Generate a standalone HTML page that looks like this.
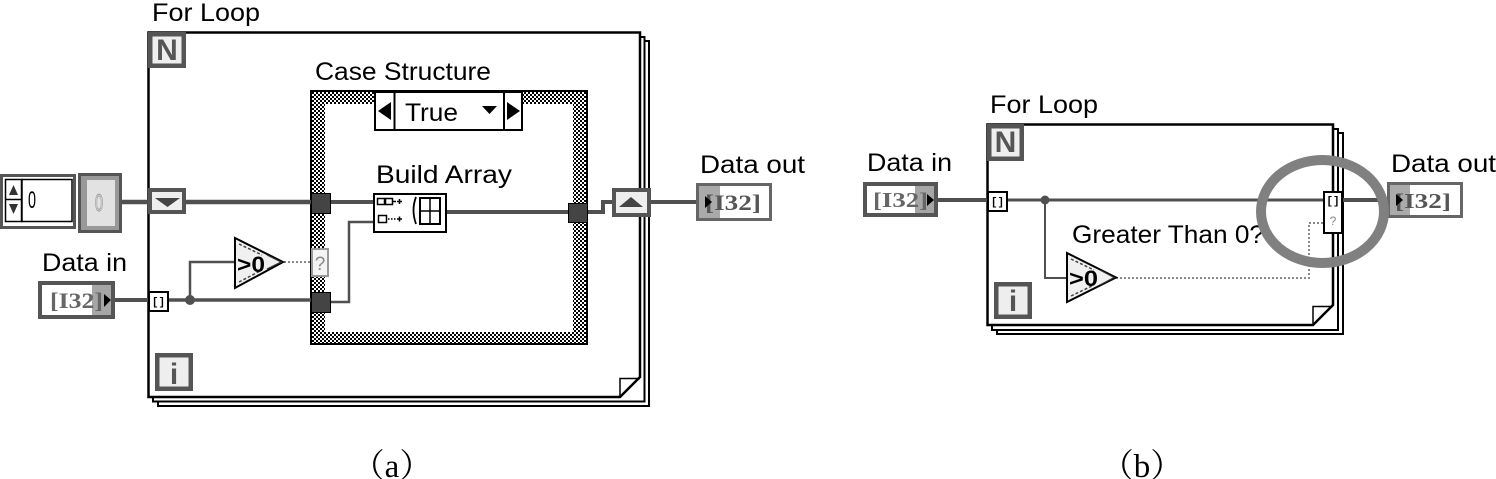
<!DOCTYPE html>
<html>
<head>
<meta charset="utf-8">
<style>
  html,body{margin:0;padding:0;background:#fff;}
  svg{display:block;}
  .lbl{font-family:"Liberation Sans",sans-serif;font-size:25px;fill:#000;}
  .ser{font-family:"Liberation Serif",serif;font-weight:bold;}
  .cap{font-family:"Liberation Serif","Noto Serif CJK SC",serif;font-size:33px;fill:#000;}
</style>
</head>
<body>
<svg width="1496" height="479" viewBox="0 0 1496 479" xmlns="http://www.w3.org/2000/svg">
  <defs>
    <pattern id="chk" width="4" height="4" patternUnits="userSpaceOnUse">
      <rect width="4" height="4" fill="#fff"/>
      <rect width="2" height="2" fill="#000"/>
      <rect x="2" y="2" width="2" height="2" fill="#000"/>
    </pattern>
  </defs>
  <rect width="1496" height="479" fill="#fff"/>

  <!-- ================= PANEL (a) ================= -->
  <text class="lbl" x="152" y="21" textLength="108" lengthAdjust="spacingAndGlyphs">For Loop</text>

  <polyline points="640,37 644.5,37 644.5,401.5 153,401.5 153,397" fill="none" stroke="#000" stroke-width="2"/>
  <polyline points="644.5,41 649,41 649,406 158,406 158,401.5" fill="none" stroke="#000" stroke-width="2"/>
  <path d="M148.5,32.5 H640 V377 L620,397 H148.5 Z" fill="#fff" stroke="#000" stroke-width="2.5"/>
  <path d="M620,397 V378.5 H640" fill="none" stroke="#000" stroke-width="1.5"/>

  <rect x="148" y="32" width="38" height="36" fill="#555"/>
  <rect x="152.5" y="36.5" width="29" height="27" fill="#eee"/>
  <text x="167" y="60" text-anchor="middle" font-family="Liberation Sans" font-weight="bold" font-size="30" fill="#555">N</text>

  <rect x="155" y="353" width="38" height="38" fill="#555"/>
  <rect x="159.5" y="357.5" width="29" height="29" fill="#eee"/>
  <text x="174" y="384" text-anchor="middle" font-family="Liberation Sans" font-weight="bold" font-size="30" fill="#555">i</text>

  <text class="lbl" x="315" y="80" textLength="176" lengthAdjust="spacingAndGlyphs">Case Structure</text>
  <rect x="311" y="91" width="276" height="253" fill="url(#chk)" stroke="#000" stroke-width="2"/>
  <rect x="325" y="104" width="248" height="228" fill="#fff"/>

  <rect x="375" y="92" width="147" height="38" fill="#fff" stroke="#000" stroke-width="2"/>
  <line x1="394.5" y1="92" x2="394.5" y2="130" stroke="#000" stroke-width="2"/>
  <line x1="504" y1="92" x2="504" y2="130" stroke="#000" stroke-width="2"/>
  <polygon points="378,111 391,102 391,120" fill="#000"/>
  <polygon points="507,102 507,120 520,111" fill="#000"/>
  <polygon points="482,106 497,106 489.5,114" fill="#000"/>
  <text class="lbl" x="405" y="121" font-size="26" textLength="53" lengthAdjust="spacingAndGlyphs">True</text>

  <text class="lbl" x="376" y="183" textLength="136" lengthAdjust="spacingAndGlyphs">Build Array</text>

  <line x1="120" y1="202" x2="311" y2="202" stroke="#505050" stroke-width="4.5"/>
  <line x1="331" y1="202" x2="374" y2="202" stroke="#505050" stroke-width="4"/>
  <line x1="447" y1="212" x2="568" y2="212" stroke="#505050" stroke-width="4"/>
  <polyline points="588,212 603,212 603,202 612,202" fill="none" stroke="#505050" stroke-width="4"/>
  <line x1="651" y1="202" x2="697" y2="202" stroke="#505050" stroke-width="4"/>
  <line x1="113" y1="300" x2="149" y2="300" stroke="#505050" stroke-width="4"/>
  <line x1="168" y1="300" x2="311" y2="300" stroke="#505050" stroke-width="3.5"/>
  <polyline points="190,300 190,262 236,262" fill="none" stroke="#505050" stroke-width="2.5"/>
  <circle cx="190" cy="300" r="5" fill="#505050"/>
  <polyline points="331,302 349,302 349,222 374,222" fill="none" stroke="#505050" stroke-width="2.5"/>
  <line x1="284" y1="262" x2="311" y2="262" stroke="#888" stroke-width="2" stroke-dasharray="2,2"/>

  <rect x="374" y="194" width="72" height="38" fill="#fff" stroke="#000" stroke-width="2"/>
  <rect x="377.5" y="198.5" width="7" height="6" fill="none" stroke="#000" stroke-width="1.5"/>
  <rect x="385.5" y="198.5" width="7" height="6" fill="none" stroke="#000" stroke-width="1.5"/>
  <line x1="393" y1="201.5" x2="396" y2="201.5" stroke="#000" stroke-width="1.5"/>
  <path d="M397,201.5 h5 M399.5,199 v5" stroke="#000" stroke-width="1.5"/>
  <rect x="378.5" y="215.5" width="8" height="7" fill="none" stroke="#000" stroke-width="1.5"/>
  <line x1="388" y1="219" x2="397" y2="219" stroke="#000" stroke-width="1.5" stroke-dasharray="1.5,1.5"/>
  <path d="M397,219 h5 M399.5,216.5 v5" stroke="#000" stroke-width="1.5"/>
  <path d="M416,197 Q411,210 416,224" fill="none" stroke="#000" stroke-width="1.8"/>
  <rect x="420" y="198" width="20" height="26" fill="none" stroke="#000" stroke-width="2"/>
  <line x1="430" y1="198" x2="430" y2="224" stroke="#000" stroke-width="1.5"/>
  <line x1="420" y1="211" x2="440" y2="211" stroke="#000" stroke-width="1.5"/>

  <rect x="311.5" y="193.5" width="19" height="20" fill="#444" stroke="#000" stroke-width="1"/>
  <rect x="311.5" y="292.5" width="19" height="20" fill="#444" stroke="#000" stroke-width="1"/>
  <rect x="568.5" y="203.5" width="19" height="19" fill="#444" stroke="#000" stroke-width="1"/>

  <rect x="312" y="249" width="16" height="27" fill="#f4f4f4" stroke="#999" stroke-width="2"/>
  <text x="320" y="270" text-anchor="middle" font-family="Liberation Sans" font-size="19" fill="#888">?</text>

  <polygon points="235,238 235,288 283,262" fill="#f0f0f0" stroke="#000" stroke-width="2"/>
  <polyline points="239,244 262,255" fill="none" stroke="#444" stroke-width="1.5" stroke-dasharray="3,2"/>
  <polyline points="239,282 262,270" fill="none" stroke="#444" stroke-width="1.5" stroke-dasharray="3,2"/>
  <polyline points="267,255 281,262 267,269" fill="none" stroke="#333" stroke-width="1.2"/>
  <text x="237" y="272" font-family="Liberation Sans" font-weight="bold" font-size="22" fill="#000" textLength="28" lengthAdjust="spacingAndGlyphs">&gt;0</text>

  <rect x="149" y="292" width="19" height="19" fill="#fff" stroke="#000" stroke-width="2"/>
  <text x="158.5" y="305" text-anchor="middle" font-family="Liberation Mono" font-weight="bold" font-size="11" fill="#000">[]</text>

  <rect x="148" y="188" width="38" height="26" fill="#555"/>
  <rect x="152" y="192" width="30" height="18" fill="#eee"/>
  <polygon points="155,198 180,198 167.5,207" fill="#444"/>

  <rect x="612" y="188" width="39" height="29" fill="#555"/>
  <rect x="616" y="192" width="31" height="21" fill="#eee"/>
  <polygon points="619,207 643,207 631,197" fill="#444"/>

  <rect x="1.5" y="175.5" width="73" height="52" fill="#fff" stroke="#555" stroke-width="3"/>
  <rect x="5.5" y="179.5" width="16" height="42" fill="#fff" stroke="#000" stroke-width="1.5"/>
  <line x1="5.5" y1="199.5" x2="21.5" y2="199.5" stroke="#000" stroke-width="1.5"/>
  <polygon points="9,195 13.5,185 18,195" fill="#333"/>
  <polygon points="9,204 18,204 13.5,214" fill="#333"/>
  <rect x="22" y="179.5" width="50" height="42" fill="#fff" stroke="#000" stroke-width="1.5"/>
  <text x="28" y="208" font-family="Liberation Sans" font-size="24" fill="#000" textLength="8" lengthAdjust="spacingAndGlyphs">0</text>

  <rect x="78" y="173" width="44" height="60" fill="#555"/>
  <rect x="81" y="176" width="38" height="54" fill="#999"/>
  <rect x="87" y="180" width="28" height="46" fill="#e2e2e2"/>
  <text x="95" y="211" font-family="Liberation Sans" font-size="24" fill="none" stroke="#999" stroke-width="1" textLength="8" lengthAdjust="spacingAndGlyphs">0</text>

  <text class="lbl" x="42" y="271" textLength="85" lengthAdjust="spacingAndGlyphs">Data in</text>
  <rect x="40" y="283" width="73" height="34" fill="#fff" stroke="#555" stroke-width="4"/>
  <rect x="92" y="285" width="19" height="30" fill="#a6a6a6"/>
  <text class="ser" x="50" y="308" font-size="22" fill="#666" textLength="53" lengthAdjust="spacingAndGlyphs">[I32]</text>
  <polygon points="104,294 111,300 104,307" fill="#000"/>

  <text class="lbl" x="700" y="173" textLength="105" lengthAdjust="spacingAndGlyphs">Data out</text>
  <rect x="697.5" y="184.5" width="73" height="35" fill="#fff" stroke="#666" stroke-width="3"/>
  <rect x="699" y="186" width="21" height="32" fill="#aaa"/>
  <text class="ser" x="705" y="210" font-size="22" fill="#555" textLength="56" lengthAdjust="spacingAndGlyphs">[I32]</text>
  <polygon points="705,196 712,202 705,208" fill="#000"/>

  <text class="cap" x="392" y="477" text-anchor="middle">（a）</text>

  <!-- ================= PANEL (b) ================= -->
  <text class="lbl" x="990" y="113" textLength="108" lengthAdjust="spacingAndGlyphs">For Loop</text>

  <polyline points="1333,129 1338,129 1338,330 992,330 992,325" fill="none" stroke="#000" stroke-width="2"/>
  <polyline points="1338,133 1343,133 1343,334 997,334 997,330" fill="none" stroke="#000" stroke-width="2"/>
  <path d="M987.5,124.5 H1333 V305 L1313,325 H987.5 Z" fill="#fff" stroke="#000" stroke-width="2.5"/>
  <path d="M1313,325 V306.5 H1333" fill="none" stroke="#000" stroke-width="1.5"/>

  <rect x="987" y="124" width="37" height="37" fill="#555"/>
  <rect x="991.5" y="128.5" width="28" height="28" fill="#eee"/>
  <text x="1005.5" y="152" text-anchor="middle" font-family="Liberation Sans" font-weight="bold" font-size="30" fill="#555">N</text>

  <rect x="994" y="282" width="38" height="37" fill="#555"/>
  <rect x="998.5" y="286.5" width="29" height="28" fill="#eee"/>
  <text x="1013" y="311" text-anchor="middle" font-family="Liberation Sans" font-weight="bold" font-size="30" fill="#555">i</text>

  <text class="lbl" x="1072" y="243" textLength="192" lengthAdjust="spacingAndGlyphs">Greater Than 0?</text>

  <line x1="936" y1="200" x2="989" y2="200" stroke="#505050" stroke-width="4"/>
  <line x1="1007" y1="200" x2="1324" y2="200" stroke="#505050" stroke-width="3"/>
  <polyline points="1045,200 1045,278 1068,278" fill="none" stroke="#505050" stroke-width="2"/>
  <circle cx="1045" cy="200" r="4.5" fill="#505050"/>
  <polyline points="1116,278 1309,278 1309,223 1323,223" fill="none" stroke="#888" stroke-width="2" stroke-dasharray="2,2"/>
  <line x1="1342" y1="200" x2="1389" y2="200" stroke="#505050" stroke-width="4"/>

  <polygon points="1067,253 1067,302 1116,277.5" fill="#f0f0f0" stroke="#000" stroke-width="2"/>
  <polyline points="1071,259 1094,270" fill="none" stroke="#444" stroke-width="1.5" stroke-dasharray="3,2"/>
  <polyline points="1071,296 1094,285" fill="none" stroke="#444" stroke-width="1.5" stroke-dasharray="3,2"/>
  <polyline points="1100,270 1114,277.5 1100,285" fill="none" stroke="#333" stroke-width="1.2"/>
  <text x="1069" y="286" font-family="Liberation Sans" font-weight="bold" font-size="22" fill="#000" textLength="29" lengthAdjust="spacingAndGlyphs">&gt;0</text>

  <rect x="988" y="192" width="19" height="19" fill="#fff" stroke="#000" stroke-width="2"/>
  <text x="997.5" y="205" text-anchor="middle" font-family="Liberation Mono" font-weight="bold" font-size="11" fill="#000">[]</text>
  <rect x="1324" y="192" width="18" height="41" fill="#fff" stroke="#000" stroke-width="2"/>
  <text x="1333" y="204" text-anchor="middle" font-family="Liberation Mono" font-weight="bold" font-size="11" fill="#000">[]</text>
  <text x="1333" y="225" text-anchor="middle" font-family="Liberation Sans" font-size="12" fill="#888">?</text>

  <text class="lbl" x="867" y="171" textLength="85" lengthAdjust="spacingAndGlyphs">Data in</text>
  <rect x="865" y="184" width="71" height="31" fill="#fff" stroke="#555" stroke-width="4"/>
  <rect x="915" y="186" width="19" height="27" fill="#a6a6a6"/>
  <text class="ser" x="873" y="207" font-size="21" fill="#666" textLength="55" lengthAdjust="spacingAndGlyphs">[I32]</text>
  <polygon points="927,194 934,200 927,206" fill="#000"/>

  <text class="lbl" x="1391" y="172" textLength="105" lengthAdjust="spacingAndGlyphs">Data out</text>
  <rect x="1388.5" y="183.5" width="73" height="33" fill="#fff" stroke="#666" stroke-width="3"/>
  <rect x="1390" y="185" width="20" height="30" fill="#aaa"/>
  <text class="ser" x="1395" y="208" font-size="21" fill="#555" textLength="56" lengthAdjust="spacingAndGlyphs">[I32]</text>
  <polygon points="1396,194 1403,200 1396,206" fill="#000"/>

  <ellipse cx="1322.5" cy="211.5" rx="61.5" ry="51.5" fill="none" stroke="#808080" stroke-width="10"/>

  <text class="cap" x="1142" y="477" text-anchor="middle">（b）</text>
</svg>
</body>
</html>
